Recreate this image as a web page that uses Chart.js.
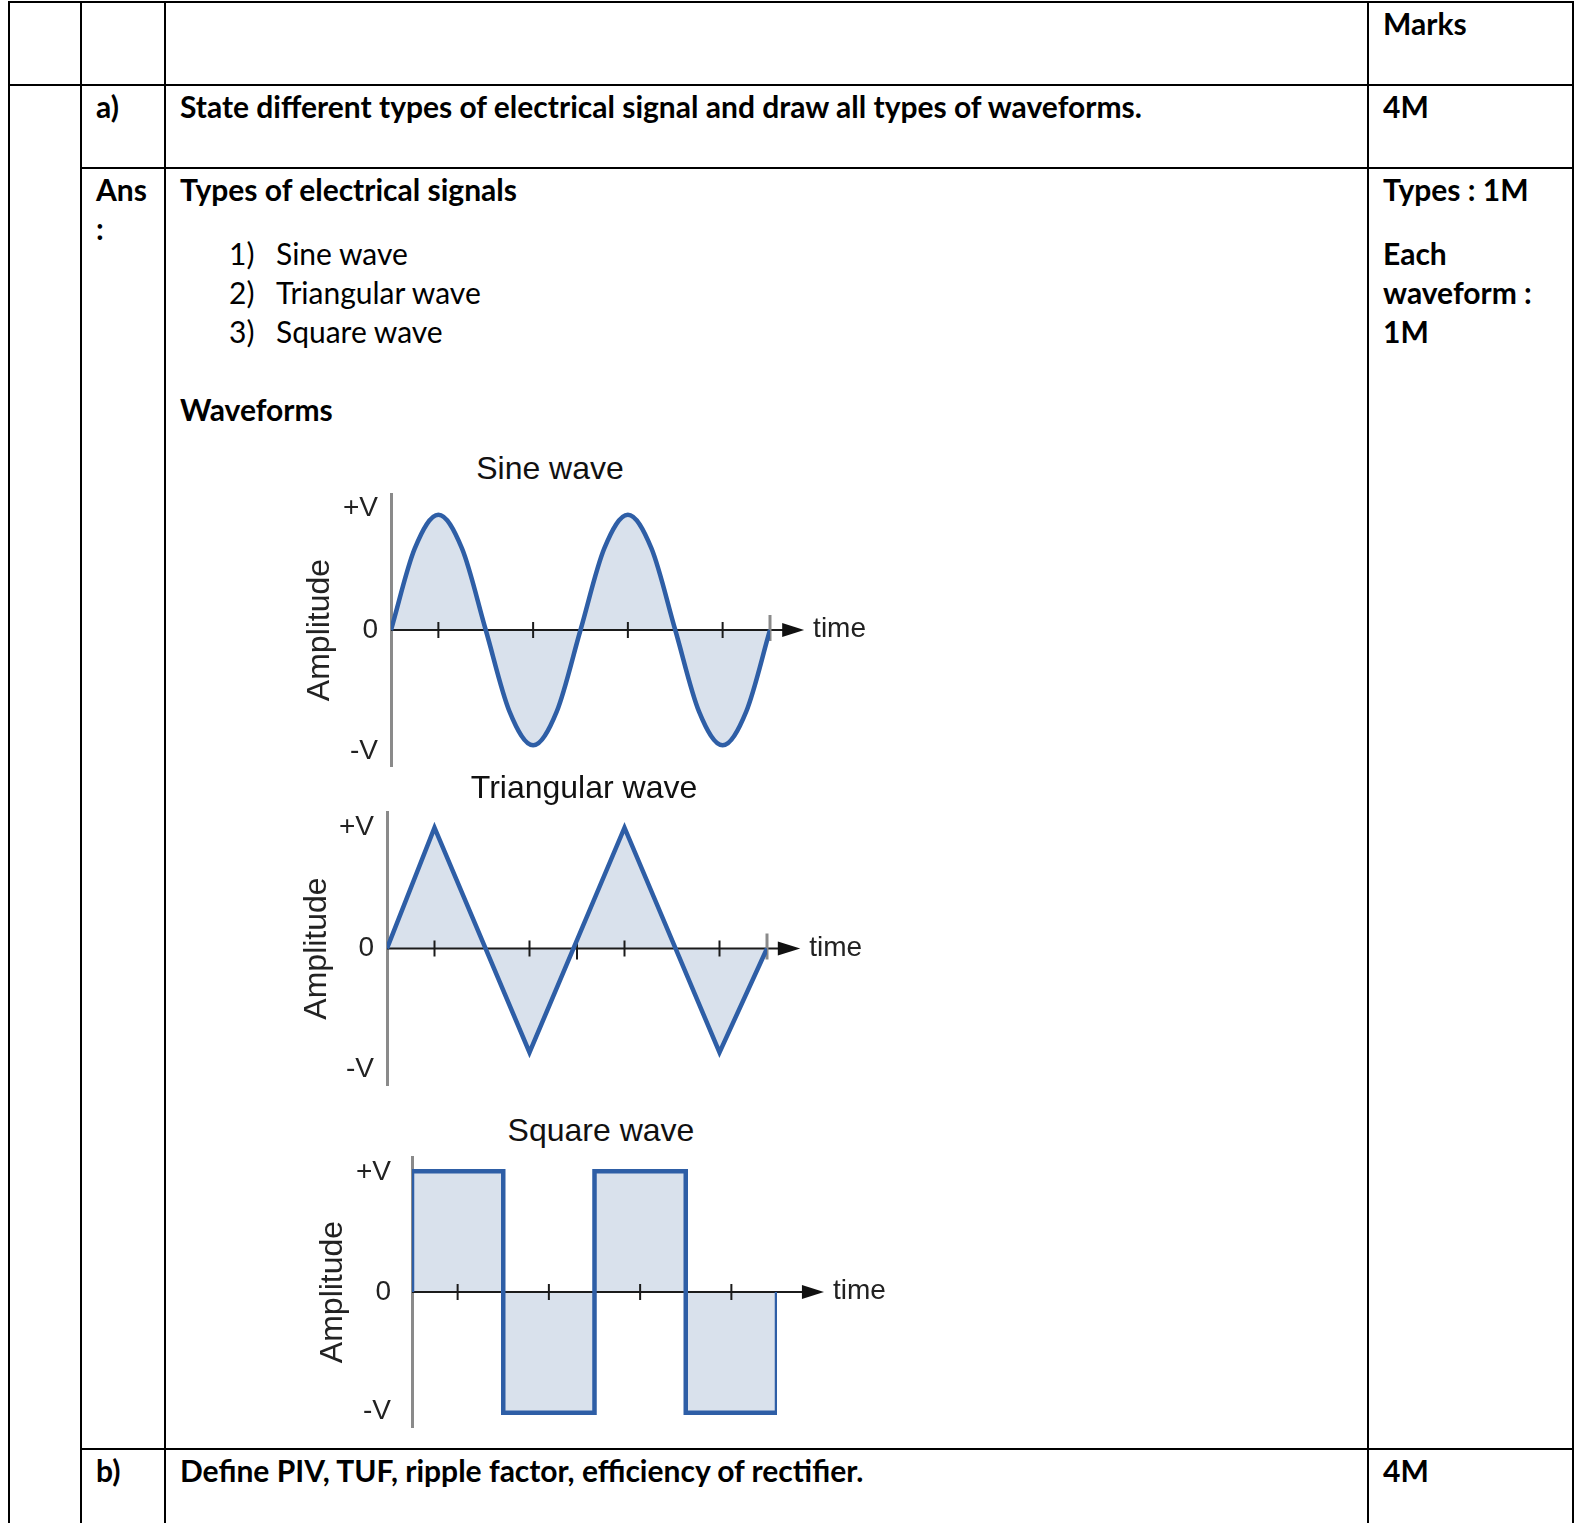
<!DOCTYPE html>
<html>
<head>
<meta charset="utf-8">
<title>Types of electrical signals</title>
<script src="https://cdn.jsdelivr.net/npm/chart.js@4.4.1/dist/chart.umd.min.js"></script>
<style>
    html, body { margin: 0; padding: 0; background: #fff; overflow: hidden; }
    #page { position: relative; width: 1600px; height: 1540px; overflow: hidden; font-family: Lato, "Noto Sans", sans-serif; color: #000; }
    table.sheet { position: absolute; left: 8px; top: 1px; width: 1566px; border-collapse: collapse; table-layout: fixed; }
    table.sheet td { border: 2px solid #000; vertical-align: top; padding: 1px 14px 0 14px; font-size: 30px; line-height: 39px; }
    .b { font-weight: 700; }
    .gap { height: 25px; }
    .item { padding-left: 49px; }
    .item .num { display: inline-block; width: 47px; }
    .wave-title { position: absolute; width: 300px; text-align: center; font-family: "Liberation Sans", Arial, sans-serif; font-size: 32px; line-height: 36px; color: #111; white-space: nowrap; }
    .chart-box { position: absolute; }
</style>
</head>
<body>
<div id="page">

<table class="sheet">
    <colgroup>
        <col style="width:72px"><col style="width:84px"><col style="width:1203px"><col style="width:205px">
    </colgroup>
    <tr style="height:83px">
        <td></td><td></td><td></td><td class="b">Marks</td>
    </tr>
    <tr style="height:83px">
        <td rowspan="3"></td>
        <td class="b">a)</td>
        <td class="b">State different types of electrical signal and draw all types of waveforms.</td>
        <td class="b">4M</td>
    </tr>
    <tr style="height:1281px">
        <td class="b">Ans<br>:</td>
        <td>
            <div class="b">Types of electrical signals</div>
            <div class="gap"></div>
            <div class="item"><span class="num">1)</span>Sine wave</div>
            <div class="item"><span class="num">2)</span>Triangular wave</div>
            <div class="item"><span class="num">3)</span>Square wave</div>
            <div>&nbsp;</div>
            <div class="b">Waveforms</div>
        </td>
        <td class="b">
            <div>Types : 1M</div>
            <div class="gap"></div>
            <div>Each</div>
            <div>waveform :</div>
            <div>1M</div>
        </td>
    </tr>
    <tr style="height:120px">
        <td class="b">b)</td>
        <td class="b">Define PIV, TUF, ripple factor, efficiency of rectifier.</td>
        <td class="b">4M</td>
    </tr>
</table>

<div class="wave-title" style="left:400px; top:450px;">Sine wave</div>
<div class="chart-box" style="left:291px; top:490px; width:589px; height:280px;"><canvas id="sineChart"></canvas></div>

<div class="wave-title" style="left:434px; top:769px;">Triangular wave</div>
<div class="chart-box" style="left:287px; top:808px; width:590px; height:281px;"><canvas id="triangleChart"></canvas></div>

<div class="wave-title" style="left:451px; top:1112px;">Square wave</div>
<div class="chart-box" style="left:312px; top:1153px; width:595px; height:278px;"><canvas id="squareChart"></canvas></div>

</div>

<script>
// time is counted in quarter periods, amplitude in units of V
const sineTime = [0, 0.5, 1, 1.5, 2, 2.5, 3, 3.5, 4, 4.5, 5, 5.5, 6, 6.5, 7, 7.5, 8];
const sineAmplitude = [0, 0.67, 0.95, 0.67, 0, -0.67, -0.95, -0.67, 0, 0.67, 0.95, 0.67, 0, -0.67, -0.95, -0.67, 0];

const triangleTime = [0, 1, 3, 5, 7, 8];
const triangleAmplitude = [0, 1.0, -0.86, 1.0, -0.86, 0];

const squareTime = [0, 0, 2, 2, 4, 4, 6, 6, 8, 8];
const squareAmplitude = [0, 1.01, 1.01, -1.01, -1.01, 1.01, 1.01, -1.01, -1.01, 0];

const yTickValues = [-1, 0, 1];
const yTickLabels = ['-V', '0', '+V'];

const sineTimeTicks = [1, 3, 5, 7];
const triangleTimeTicks = [1, 3, 5, 7];
const triangleCrossTicks = [4];
const squareTimeTicks = [1, 3, 5, 7];

const timeLabel = 'time';
const amplitudeLabel = 'Amplitude';

const waveBlue = '#2e5ea6';
const waveFill = '#d9e1ec';
const labelFont = '"Liberation Sans", Arial, sans-serif';

// x axis with arrow, tick marks and "time" label, drawn on top of the fill
const timeAxisPlugin = {
    id: 'timeAxis',
    beforeDatasetsDraw(chart, args, opts) {
        const ctx = chart.ctx;
        const xs = chart.scales.x;
        const y0 = chart.scales.y.getPixelForValue(0);
        const xStart = xs.getPixelForValue(0);
        const xBase = xs.getPixelForValue(opts.arrowBase);
        const xTip = xs.getPixelForValue(opts.arrowTip);

        ctx.save();
        ctx.strokeStyle = '#1b1b1b';
        ctx.lineWidth = 2;
        ctx.beginPath();
        ctx.moveTo(xStart, y0);
        ctx.lineTo(xBase, y0);
        ctx.stroke();

        opts.ticks.forEach(t => {
            const px = xs.getPixelForValue(t);
            ctx.beginPath();
            ctx.moveTo(px, y0 - 8);
            ctx.lineTo(px, y0 + 8);
            ctx.stroke();
        });
        (opts.longTicks || []).forEach(t => {
            const px = xs.getPixelForValue(t);
            ctx.beginPath();
            ctx.moveTo(px, y0 - 11);
            ctx.lineTo(px, y0 + 11);
            ctx.stroke();
        });
        if (opts.endTick) {
            const px = xs.getPixelForValue(xs.max);
            ctx.strokeStyle = '#8a8a8a';
            ctx.lineWidth = 3;
            ctx.beginPath();
            ctx.moveTo(px, y0 - 15);
            ctx.lineTo(px, y0 + 11);
            ctx.stroke();
        }

        ctx.fillStyle = '#111';
        ctx.beginPath();
        ctx.moveTo(xBase - 2, y0 - 7);
        ctx.lineTo(xTip, y0);
        ctx.lineTo(xBase - 2, y0 + 7);
        ctx.closePath();
        ctx.fill();

        ctx.fillStyle = '#222';
        ctx.font = '28px ' + labelFont;
        ctx.textBaseline = 'alphabetic';
        ctx.fillText(timeLabel, xTip + 9, y0 + 7);
        ctx.restore();
    }
};

function makeWaveChart(canvasId, times, amps, opt) {
    const ctx = document.getElementById(canvasId).getContext('2d');
    return new Chart(ctx, {
        type: 'line',
        data: {
            datasets: [{
                data: times.map((t, i) => ({ x: t, y: amps[i] })),
                borderColor: waveBlue,
                backgroundColor: waveFill,
                borderWidth: 4.5,
                borderJoinStyle: 'miter',
                fill: 'origin',
                pointRadius: 0,
                tension: opt.curve ? 0.4 : 0,
                cubicInterpolationMode: opt.curve ? 'monotone' : 'default'
            }]
        },
        options: {
            responsive: true,
            maintainAspectRatio: false,
            animation: false,
            events: [],
            layout: { padding: { top: 4, bottom: 4, left: 0, right: opt.padRight } },
            plugins: {
                legend: { display: false },
                tooltip: { enabled: false },
                filler: { drawTime: 'beforeDatasetsDraw' },
                timeAxis: {
                    arrowBase: opt.arrowBase,
                    arrowTip: opt.arrowTip,
                    ticks: opt.ticks,
                    longTicks: opt.longTicks,
                    endTick: opt.endTick
                }
            },
            scales: {
                x: { type: 'linear', min: 0, max: 8, display: false },
                y: {
                    min: -opt.yRange,
                    max: opt.yRange,
                    afterFit: scale => {
                        // fixed axis width; the +V / -V labels sit inside the plot height
                        scale.width = 100;
                        scale.paddingTop = 0;
                        scale.paddingBottom = 0;
                    },
                    afterBuildTicks: scale => { scale.ticks = yTickValues.map(v => ({ value: v })); },
                    grid: { display: false, drawTicks: false },
                    border: { display: true, color: '#8a8a8a', width: 3 },
                    ticks: {
                        padding: opt.tickPad,
                        color: '#222',
                        font: { family: labelFont, size: 28 },
                        callback: (value, index) => yTickLabels[index]
                    },
                    title: {
                        display: true,
                        text: amplitudeLabel,
                        color: '#222',
                        font: { family: labelFont, size: 32 },
                        padding: { top: opt.titlePad, bottom: 0 }
                    }
                }
            }
        },
        plugins: [timeAxisPlugin]
    });
}

makeWaveChart('sineChart', sineTime, sineAmplitude, {
    curve: true, yRange: 1.12, padRight: 110, tickPad: 13, titlePad: 10,
    arrowBase: 8.3, arrowTip: 8.72, ticks: sineTimeTicks, endTick: true
});
makeWaveChart('triangleChart', triangleTime, triangleAmplitude, {
    curve: false, yRange: 1.13, padRight: 110, tickPad: 13, titlePad: 11,
    arrowBase: 8.27, arrowTip: 8.7, ticks: triangleTimeTicks, longTicks: triangleCrossTicks, endTick: true
});
makeWaveChart('squareChart', squareTime, squareAmplitude, {
    curve: false, yRange: 1.13, padRight: 130, tickPad: 21, titlePad: 2,
    arrowBase: 8.59, arrowTip: 9.03, ticks: squareTimeTicks, endTick: false
});
</script>
</body>
</html>
